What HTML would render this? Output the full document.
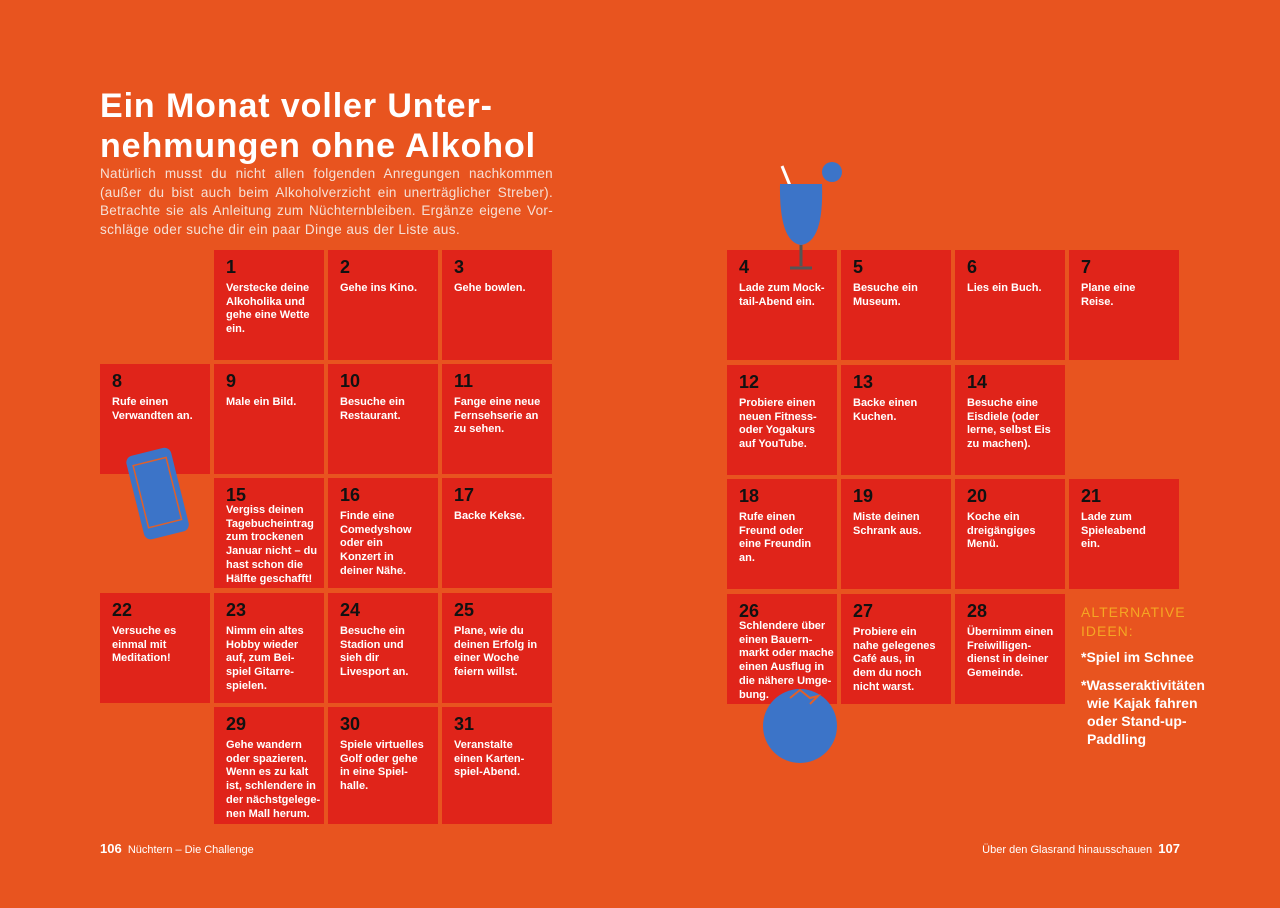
<!DOCTYPE html>
<html><head><meta charset="utf-8"><style>
body{margin:0;width:1280px;height:908px;background:#E8541F;position:relative;overflow:hidden;font-family:"Liberation Sans",sans-serif;color:#fff}
.c{position:absolute;width:110px;height:110px;background:#E0241A;box-sizing:border-box;padding:8px 0 0 12px}
.n{font-weight:bold;font-size:18px;color:#111;line-height:18px}
.t{font-weight:bold;font-size:11px;line-height:13.7px;margin-top:6px;white-space:nowrap}
.abs{position:absolute}
.j{display:block;text-align:justify;text-align-last:justify;white-space:nowrap}
</style></head><body>
<div class="abs" style="left:100px;top:86px;font-size:34px;font-weight:bold;line-height:40px;letter-spacing:0.9px">Ein Monat voller Unter-<br>nehmungen ohne Alkohol</div>
<div class="abs" style="left:100px;top:165px;width:453px;font-size:13.5px;line-height:18.5px;color:#f6e0d6;letter-spacing:0.3px">
<span class="j">Natürlich musst du nicht allen folgenden Anregungen nachkommen</span>
<span class="j">(außer du bist auch beim Alkoholverzicht ein unerträglicher Streber).</span>
<span class="j">Betrachte sie als Anleitung zum Nüchternbleiben. Ergänze eigene Vor-</span>
<span style="white-space:nowrap;letter-spacing:0.4px">schläge oder suche dir ein paar Dinge aus der Liste aus.</span></div>

<div id="cells"></div>

<svg class="abs" style="left:120px;top:440px" width="80" height="110"><g transform="rotate(-14 40 55)"><rect x="15" y="10" width="46" height="86" rx="7" fill="#3C74C8"/><rect x="21" y="20" width="34" height="64" fill="none" stroke="#E0602A" stroke-width="1.5"/></g></svg>
<svg class="abs" style="left:770px;top:160px" width="80" height="115"><line x1="12" y1="6" x2="30" y2="50" stroke="#fff" stroke-width="3"/><path d="M10 24 H52 Q54 82 31 85 Q9 82 10 24Z" fill="#3C74C8"/><line x1="31" y1="85" x2="31" y2="106" stroke="#555" stroke-width="3"/><line x1="20" y1="108" x2="42" y2="108" stroke="#555" stroke-width="3"/><circle cx="62" cy="12" r="10" fill="#3C74C8"/></svg>
<svg class="abs" style="left:760px;top:688px" width="85" height="80"><circle cx="40" cy="38" r="37" fill="#3C74C8"/><path d="M30 10 L40 2 L50 10 L58 8 L50 16" fill="none" stroke="#E0602A" stroke-width="2"/></svg>

<div class="abs" style="left:1081px;top:603px;font-size:14px;line-height:19px;color:#F5A623;letter-spacing:1px">ALTERNATIVE<br>IDEEN:</div>
<div class="abs" style="left:1081px;top:648px;font-size:14px;font-weight:bold;line-height:18px">*Spiel im Schnee<div style="margin-top:10px">*Wasseraktivitäten<div style="padding-left:6px">wie Kajak fahren<br>oder Stand-up-<br>Paddling</div></div></div>

<div class="abs" style="left:100px;top:841px;font-size:11px"><b style="font-size:13px">106</b>&nbsp; Nüchtern – Die Challenge</div>
<div class="abs" style="right:100px;top:841px;font-size:11px">Über den Glasrand hinausschauen&nbsp; <b style="font-size:13px">107</b></div>
<script>
const items=[
[214,250,1,"Verstecke deine<br>Alkoholika und<br>gehe eine Wette<br>ein."],
[328,250,2,"Gehe ins Kino."],
[442,250,3,"Gehe bowlen."],
[727,250,4,"Lade zum Mock-<br>tail-Abend ein."],
[841,250,5,"Besuche ein<br>Museum."],
[955,250,6,"Lies ein Buch."],
[1069,250,7,"Plane eine<br>Reise."],
[100,364,8,"Rufe einen<br>Verwandten an."],
[214,364,9,"Male ein Bild."],
[328,364,10,"Besuche ein<br>Restaurant."],
[442,364,11,"Fange eine neue<br>Fernsehserie an<br>zu sehen."],
[727,365,12,"Probiere einen<br>neuen Fitness-<br>oder Yogakurs<br>auf YouTube."],
[841,365,13,"Backe einen<br>Kuchen."],
[955,365,14,"Besuche eine<br>Eisdiele (oder<br>lerne, selbst Eis<br>zu machen)."],
[214,478,15,"Vergiss deinen<br>Tagebucheintrag<br>zum trockenen<br>Januar nicht – du<br>hast schon die<br>Hälfte geschafft!"],
[328,478,16,"Finde eine<br>Comedyshow<br>oder ein<br>Konzert in<br>deiner Nähe."],
[442,478,17,"Backe Kekse."],
[727,479,18,"Rufe einen<br>Freund oder<br>eine Freundin<br>an."],
[841,479,19,"Miste deinen<br>Schrank aus."],
[955,479,20,"Koche ein<br>dreigängiges<br>Menü."],
[1069,479,21,"Lade zum<br>Spieleabend<br>ein."],
[100,593,22,"Versuche es<br>einmal mit<br>Meditation!"],
[214,593,23,"Nimm ein altes<br>Hobby wieder<br>auf, zum Bei-<br>spiel Gitarre-<br>spielen."],
[328,593,24,"Besuche ein<br>Stadion und<br>sieh dir<br>Livesport an."],
[442,593,25,"Plane, wie du<br>deinen Erfolg in<br>einer Woche<br>feiern willst."],
[727,594,26,"Schlendere über<br>einen Bauern-<br>markt oder mache<br>einen Ausflug in<br>die nähere Umge-<br>bung."],
[841,594,27,"Probiere ein<br>nahe gelegenes<br>Café aus, in<br>dem du noch<br>nicht warst."],
[955,594,28,"Übernimm einen<br>Freiwilligen-<br>dienst in deiner<br>Gemeinde."],
[214,707,29,"Gehe wandern<br>oder spazieren.<br>Wenn es zu kalt<br>ist, schlendere in<br>der nächstgelege-<br>nen Mall herum."],
[328,707,30,"Spiele virtuelles<br>Golf oder gehe<br>in eine Spiel-<br>halle."],
[442,707,31,"Veranstalte<br>einen Karten-<br>spiel-Abend."]
];
const root=document.getElementById('cells');
items.forEach(([x,y,n,t])=>{
const d=document.createElement('div');d.className='c';


d.style.left=x+'px';d.style.top=y+'px';
if(n>=29)d.style.height='117px';
d.innerHTML='<div class="n">'+n+'</div><div class="t"'+(n===15||n===26?' style="margin-top:0"':'')+'>'+t+'</div>';
root.appendChild(d);});
</script>
</body></html>
